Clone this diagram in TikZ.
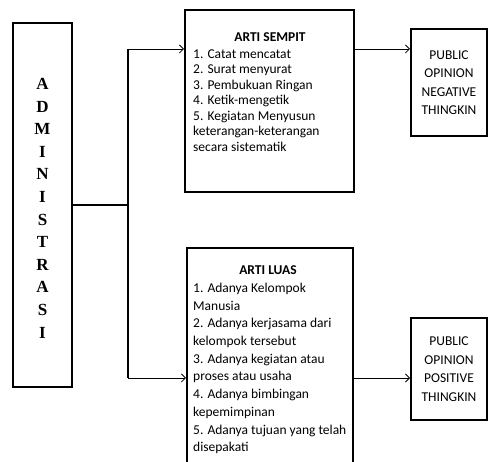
\documentclass[tikz,border=0pt]{standalone}
\usepackage{fontspec}
\setmainfont{Carlito}
\newfontfamily\admfont{Liberation Serif}
\usetikzlibrary{arrows.meta}
\begin{document}
\begin{tikzpicture}[x=1pt,y=-1pt,
  box/.style={draw, line width=2pt, inner sep=0pt},
  item/.style={anchor=base west, inner sep=0pt, font=\fontsize{13.5}{15}\selectfont},
  ttl/.style={anchor=base, inner sep=0pt, font=\bfseries\fontsize{13.5}{15}\selectfont},
  pub/.style={align=center, inner sep=0pt, font=\fontsize{13.5}{18.5}\selectfont},
  letter/.style={anchor=base, inner sep=0pt, font=\admfont\bfseries\fontsize{17}{18}\selectfont},
  arr/.style={line width=0.8pt, -{Straight Barb[length=4pt,width=8pt]}},
  trunk/.style={line width=2.2pt}]
\useasboundingbox (0,0) rectangle (488,462);
\clip (0,0) rectangle (488,462);
\fill[white] (0,0) rectangle (488,462);

% boxes
\node[box, minimum width=59pt, minimum height=364pt] (adm) at (42.5,205) {};
\node[box, minimum width=169pt, minimum height=182pt] (sempit) at (269.5,101) {};
\node[box, minimum width=166pt, minimum height=230pt] (luas) at (270,363) {};
\node[box, minimum width=76pt, minimum height=107pt] (neg) at (449,82.5) {};
\node[box, minimum width=76pt, minimum height=102pt] (pos) at (449,369) {};

% ADMINISTRASI letters
\foreach \c [count=\i] in {A,D,M,I,N,I,S,T,R,A,S,I}
  \node[letter, name=a\i] at (42.5,{89.6+22.6*(\i-1)}) {\c};

% ARTI SEMPIT
\node[ttl] (sempittitle) at (270,41.5) {ARTI SEMPIT};
\foreach \t [count=\i] in {{1. Catat mencatat},{2. Surat menyurat},{3. Pembukuan Ringan},{4. Ketik-mengetik},{5. Kegiatan Menyusun},{keterangan-keterangan},{secara sistematik}}
  \node[item, name=s\i] at (193,{58.5+15.5*(\i-1)}) {\t};

% ARTI LUAS
\node[ttl] (luastitle) at (268,275) {ARTI LUAS};
\foreach \t [count=\i] in {{1. Adanya Kelompok},{Manusia},{2. Adanya kerjasama dari},{kelompok tersebut},{3. Adanya kegiatan atau},{proses atau usaha},{4. Adanya bimbingan},{kepemimpinan},{5. Adanya tujuan yang telah},{disepakati}}
  \node[item, name=l\i] at (193,{292.5+17.7*(\i-1)}) {\t};

% public opinion boxes
\node[pub] (negtext) at (neg.center) {PUBLIC\\OPINION\\NEGATIVE\\THINGKIN};
\node[pub] (postext) at (pos.center) {PUBLIC\\OPINION\\POSITIVE\\THINGKIN};

% connectors
\coordinate (j) at (128,205);
\coordinate (jt) at (128,49);
\coordinate (jb) at (128,378);
\draw[trunk] (adm.east |- j) -- (j);
\draw[trunk] (jt) -- (jb);
\draw[arr] (jt) -- (jt -| sempit.west);
\draw[arr] (jb) -- (jb -| luas.west);
\draw[arr] (sempit.east |- jt) -- (neg.west |- jt);
\draw[arr] (luas.east |- jb) -- (pos.west |- jb);
\end{tikzpicture}
\end{document}
